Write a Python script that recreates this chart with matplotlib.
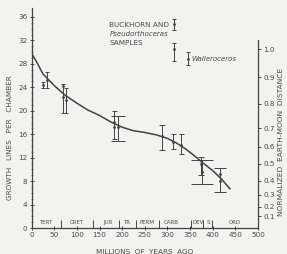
import matplotlib
matplotlib.use('Agg')
import matplotlib.pyplot as plt
import numpy as np

# fitted curve (millions of years ago, lines per chamber)
curve_age = [0, 10, 25, 50, 75, 100, 125, 150, 175, 200, 225, 250, 275, 300, 320, 340, 360, 380, 400, 420, 438]
curve_lines = [29.8, 28.5, 26.3, 24.3, 22.6, 21.3, 20.1, 19.2, 18.1, 17.2, 16.6, 16.3, 15.9, 15.3, 14.5, 13.5, 12.3, 11.0, 9.8, 8.3, 6.7]

# samples: age, centre, lower and upper end of the bar, cap size
age = [26, 33, 70, 76, 182, 191, 288, 313, 331, 374, 376, 416]
lines = [24.4, 25.2, 22.4, 21.9, 18.1, 17.3, 15.7, 14.6, 14.2, 11.0, 9.6, 9.3]
low = [23.8, 23.9, 19.7, 19.7, 15.2, 14.9, 13.3, 13.5, 12.7, 9.0, 7.6, 6.1]
high = [24.9, 26.6, 24.6, 23.8, 20.0, 19.1, 17.6, 16.0, 16.0, 12.2, 11.6, 10.3]
caps = [1.3, 1.3, 1.5, 1.5, 1.8, 5, 2, 1.8, 1.8, 2, 8, 4]
extra_age = [70, 182, 416]
extra_lines = [24.2, 17.3, 8.1]

# key at the top
key_age = [315, 315, 345]
key_lines = [34.75, 30.6, 28.9]
key_low = [33.7, 28.5, 27.8]
key_high = [35.7, 31.6, 30.0]

# geological periods
periods = ['TERT', 'CRET', 'JUR', 'TR', 'PERM', 'CARB', 'DEV', 'S', 'ORD']
period_mid = [32, 101, 169, 210, 254, 309, 367, 390, 449]
period_bounds = [66, 136, 193, 230, 282, 351, 379, 398]

# right axis
dist_labels = ['0.1', '0.2', '0.3', '0.4', '0.5', '0.6', '0.7', '0.8', '0.9', '1.0']
dist_pos = [2.0, 3.6, 5.7, 8.1, 11.0, 13.9, 17.0, 21.2, 25.7, 30.5]

ink = '#434343'
txt = '#4a4a4a'

fig = plt.figure(figsize=(2.87, 2.54), dpi=100)
fig.patch.set_facecolor('#f0f3ee')
ax = fig.add_axes([0.110, 0.102, 0.789, 0.866])
ax.set_facecolor('none')

ax.plot(curve_age, curve_lines, color=ink, lw=1.1)

for i in range(len(age)):
    ax.errorbar(age[i], lines[i], yerr=[[lines[i] - low[i]], [high[i] - lines[i]]],
                fmt='.', ms=2, color=ink, ecolor=ink, elinewidth=0.7, capsize=caps[i], capthick=0.7)
ax.plot(extra_age, extra_lines, '.', ms=2, color=ink)
ax.errorbar(key_age, key_lines, yerr=[np.subtract(key_lines, key_low), np.subtract(key_high, key_lines)],
            fmt='.', ms=2, color=ink, ecolor=ink, elinewidth=0.7, capsize=1.5, capthick=0.7)
ax.annotate('', xy=(key_age[0], 38.0), xytext=(key_age[0], 36.4),
            arrowprops=dict(arrowstyle='-|>', color=ink, lw=0.7, mutation_scale=4))

ax.text(172, 34.6, 'BUCKHORN AND', fontsize=5.2, color=txt, va='center')
ax.text(172, 33.1, 'Pseudorthoceras', fontsize=5.0, color=txt, va='center', style='italic')
ax.text(172, 31.6, 'SAMPLES', fontsize=5.2, color=txt, va='center')
ax.text(353, 28.9, 'Walleroceros', fontsize=5.0, color=txt, va='center', style='italic')

for p, m in zip(periods, period_mid):
    ax.text(m, 0.5, p, fontsize=4.0, color=txt, ha='center', va='bottom')
ax.vlines(period_bounds, -0.4, 1.3, color=ink, lw=0.7)

ax.set_xlim(0, 500)
ax.set_ylim(0, 37.5)
ax.set_xticks(np.arange(0, 501, 50))
ax.set_yticks(np.arange(0, 37, 4))
ax.set_yticks(np.arange(0, 37, 1), minor=True)
ax.tick_params(axis='both', labelsize=5.2, colors=ink, labelcolor=txt, width=0.7, length=3, direction='inout', pad=1.5)
ax.tick_params(axis='y', which='minor', length=1.6, width=0.5, direction='inout', colors=ink)
ax.spines['top'].set_visible(False)
ax.spines['right'].set_visible(False)
for s in ['left', 'bottom']:
    ax.spines[s].set_color(ink)
    ax.spines[s].set_linewidth(0.9)

ax.set_ylabel('GROWTH   LINES   PER   CHAMBER', fontsize=5.2, color=txt)
ax.yaxis.set_label_coords(-0.082, 0.41)
ax.set_xlabel('MILLIONS  OF  YEARS  AGO', fontsize=5.2, color=txt)
ax.xaxis.set_label_coords(0.5, -0.095)

ax2 = ax.twinx()
ax2.set_ylim(ax.get_ylim())
ax2.set_yticks(dist_pos, dist_labels)
ax2.tick_params(axis='y', labelsize=5.2, colors=ink, labelcolor=txt, width=0.7, length=2.5, pad=1.5)
for s in ['top', 'left', 'bottom']:
    ax2.spines[s].set_visible(False)
ax2.spines['right'].set_bounds(0, 32)
ax2.spines['right'].set_color(ink)
ax2.spines['right'].set_linewidth(0.9)
ax2.set_ylabel('NORMALIZED  EARTH-MOON  DISTANCE', fontsize=5.4, color=txt)
ax2.yaxis.set_label_coords(1.09, 0.39)

fig.savefig('out.png', dpi=100, facecolor=fig.get_facecolor())
